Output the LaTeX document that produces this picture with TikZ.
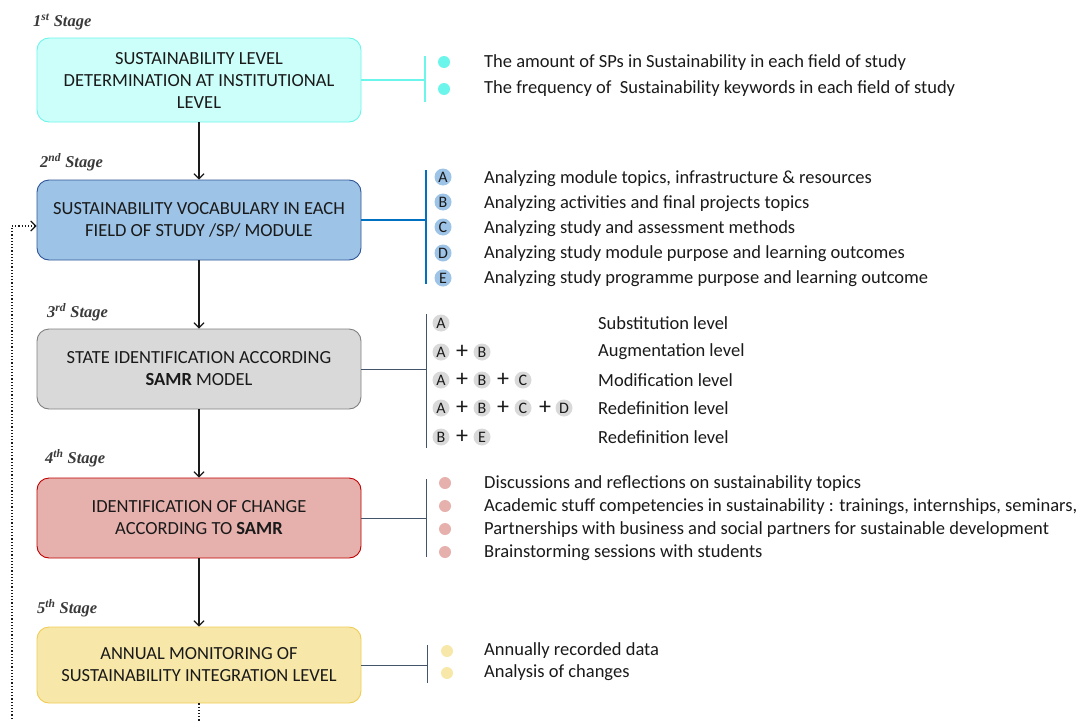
\documentclass[tikz,border=0pt]{standalone}
\usepackage{fontspec}
\setmainfont{Carlito}
\newfontfamily\stagefont{Liberation Serif}
\usetikzlibrary{positioning,arrows.meta,calc}
\definecolor{cyanfill}{HTML}{CCFFF9}
\definecolor{cyanline}{HTML}{6CF5EB}
\definecolor{bluefill}{HTML}{9DC3E6}
\definecolor{blueline}{HTML}{2F5597}
\definecolor{bluebar}{HTML}{0070C0}
\definecolor{greyfill}{HTML}{D9D9D9}
\definecolor{greyline}{HTML}{808080}
\definecolor{redfill}{HTML}{E6B1AD}
\definecolor{redline}{HTML}{C00000}
\definecolor{yellowfill}{HTML}{F7E8A9}
\definecolor{yellowline}{HTML}{F0CB55}
\definecolor{slate}{HTML}{44546A}
\definecolor{ink}{HTML}{1A1A1A}
\definecolor{stageink}{HTML}{3A3A3A}
\tikzset{
  stagebox/.style={draw, rounded corners=12pt, line width=0.9pt, minimum width=324pt, minimum height=80pt, align=center, text=ink, font=\fontsize{18.5}{22}\selectfont},
  stagelab/.style={anchor=west, inner sep=0pt, text=stageink, font=\stagefont\bfseries\itshape\fontsize{16.5}{18}\selectfont},
  item/.style={anchor=west, inner sep=0pt, text=ink, font=\fontsize{18.5}{22}\selectfont},
  bullet/.style={circle, inner sep=0pt, minimum size=12pt},
  tag/.style={circle, inner sep=0pt, minimum size=17pt, text=ink, font=\fontsize{16}{16}\selectfont},
  plussign/.style={inner sep=0pt, text=ink, font=\fontsize{24}{24}\selectfont},
  flow/.style={-{Straight Barb[length=5pt,width=10pt]}, draw=ink, line width=1.2pt},
  loopline/.style={-{Straight Barb[length=5pt,width=10pt]}, draw=ink, line width=1.2pt, dotted},
  thin/.style={draw=slate, line width=0.9pt},
}
\begin{document}
\begin{tikzpicture}[x=1pt, y=-1pt]
    \clip (0,0) rectangle (1086,720);
    % stage labels
    \node[stagelab] (l1) at (33,22)  {1\textsuperscript{st} Stage};
    \node[stagelab] (l2) at (40,162) {2\textsuperscript{nd} Stage};
    \node[stagelab] (l3) at (47,312) {3\textsuperscript{rd} Stage};
    \node[stagelab] (l4) at (45,458) {4\textsuperscript{th} Stage};
    \node[stagelab] (l5) at (37,608) {5\textsuperscript{th} Stage};
    % stage boxes
    \node[stagebox, fill=cyanfill, draw=cyanline, minimum height=84pt] (s1) at (199,80) {SUSTAINABILITY LEVEL\\DETERMINATION AT INSTITUTIONAL\\LEVEL};
    \node[stagebox, fill=bluefill, draw=blueline] (s2) at (199,220) {SUSTAINABILITY VOCABULARY IN EACH\\FIELD OF STUDY /SP/ MODULE};
    \node[stagebox, fill=greyfill, draw=greyline] (s3) at (199,369) {STATE IDENTIFICATION ACCORDING\\\textbf{SAMR} MODEL};
    \node[stagebox, fill=redfill, draw=redline] (s4) at (199,518) {IDENTIFICATION OF CHANGE\\ACCORDING TO \textbf{SAMR}};
    \node[stagebox, fill=yellowfill, draw=yellowline, minimum height=76pt] (s5) at (199,665) {ANNUAL MONITORING OF\\SUSTAINABILITY INTEGRATION LEVEL};
    % flow between stages
    \draw[flow] (s1) -- (s2);
    \draw[flow] (s2) -- (s3);
    \draw[flow] (s3) -- (s4);
    \draw[flow] (s4) -- (s5);
    % feedback loop
    \coordinate (loopbot) at (12,760);
    \draw[loopline] (s5.south) |- (loopbot) |- ([yshift=-6pt]s2.west);
    % stage 1 details
    \coordinate (b1t) at (425,56);
    \coordinate (b1b) at (425,102);
    \draw[draw=cyanline, line width=2pt] (b1t) -- (b1b);
    \draw[draw=cyanline, line width=2pt] (s1.east) -- (s1.east -| b1t);
    \node[bullet, fill=cyanline] (d11) at (444,62) {};
    \node[bullet, fill=cyanline] (d12) at (444,89) {};
    \node[item] (t11) at (484,63) {The amount of SPs in Sustainability in each field of study};
    \node[item] (t12) at (484,89) {The frequency of~ Sustainability keywords in each field of study};
    % stage 2 details
    \coordinate (b2t) at (426,170);
    \coordinate (b2b) at (426,284);
    \draw[draw=bluebar, line width=2.4pt] (b2t) -- (b2b);
    \draw[draw=bluebar, line width=2.4pt] (s2.east) -- (s2.east -| b2t);
    \node[tag, fill=bluefill] (ca) at (443,177) {A};
    \node[tag, fill=bluefill] (cb) at (443,202) {B};
    \node[tag, fill=bluefill] (cc) at (443,227) {C};
    \node[tag, fill=bluefill] (cd) at (443,253) {D};
    \node[tag, fill=bluefill] (ce) at (443,278) {E};
    \node[item] (t21) at (484,179) {Analyzing module topics, infrastructure \& resources};
    \node[item] (t22) at (484,204) {Analyzing activities and final projects topics};
    \node[item] (t23) at (484,229) {Analyzing study and assessment methods};
    \node[item] (t24) at (484,254) {Analyzing study module purpose and learning outcomes};
    \node[item] (t25) at (484,279) {Analyzing study programme purpose and learning outcome};
    % stage 3 details
    \coordinate (b3t) at (426,314);
    \coordinate (b3b) at (426,448);
    \draw[thin] (b3t) -- (b3b);
    \draw[thin] (s3.east) -- (s3.east -| b3t);
    \node[tag, fill=greyfill] (r1a) at (441,323) {A};
    \node[tag, fill=greyfill] (r2a) at (441,352) {A};
    \node[plussign] (r2p1) at (462,352) {+};
    \node[tag, fill=greyfill] (r2b) at (482,352) {B};
    \node[tag, fill=greyfill] (r3a) at (441,380) {A};
    \node[plussign] (r3p1) at (462,380) {+};
    \node[tag, fill=greyfill] (r3b) at (482,380) {B};
    \node[plussign] (r3p2) at (503,380) {+};
    \node[tag, fill=greyfill] (r3c) at (523,380) {C};
    \node[tag, fill=greyfill] (r4a) at (441,408) {A};
    \node[plussign] (r4p1) at (462,408) {+};
    \node[tag, fill=greyfill] (r4b) at (482,408) {B};
    \node[plussign] (r4p2) at (503,408) {+};
    \node[tag, fill=greyfill] (r4c) at (523,408) {C};
    \node[plussign] (r4p3) at (545,408) {+};
    \node[tag, fill=greyfill] (r4d) at (564,408) {D};
    \node[tag, fill=greyfill] (r5b) at (441,437) {B};
    \node[plussign] (r5p1) at (462,437) {+};
    \node[tag, fill=greyfill] (r5e) at (482,437) {E};
    \node[item] (t31) at (598,323) {Substitution level};
    \node[item] (t32) at (598,352) {Augmentation level};
    \node[item] (t33) at (598,380) {Modification level};
    \node[item] (t34) at (598,408) {Redefinition level};
    \node[item] (t35) at (598,437) {Redefinition level};
    % stage 4 details
    \coordinate (b4t) at (426,479);
    \coordinate (b4b) at (426,557);
    \draw[thin] (b4t) -- (b4b);
    \draw[thin] (s4.east) -- (s4.east -| b4t);
    \node[bullet, fill=redfill] (d41) at (445,483) {};
    \node[bullet, fill=redfill] (d42) at (445,506) {};
    \node[bullet, fill=redfill] (d43) at (445,529) {};
    \node[bullet, fill=redfill] (d44) at (445,552) {};
    \node[item] (t41) at (484,484) {Discussions and reflections on sustainability topics};
    \node[item] (t42) at (484,507) {Academic stuff competencies in sustainability : trainings, internships, seminars,};
    \node[item] (t43) at (484,530) {Partnerships with business and social partners for sustainable development};
    \node[item] (t44) at (484,553) {Brainstorming sessions with students};
    % stage 5 details
    \coordinate (b5t) at (427,645);
    \coordinate (b5b) at (427,683);
    \draw[thin] (b5t) -- (b5b);
    \draw[thin] (s5.east) -- (s5.east -| b5t);
    \node[bullet, fill=yellowfill] (d51) at (447,651) {};
    \node[bullet, fill=yellowfill] (d52) at (447,673) {};
    \node[item] (t51) at (484,651) {Annually recorded data};
    \node[item] (t52) at (484,673) {Analysis of changes};
\end{tikzpicture}
\end{document}
